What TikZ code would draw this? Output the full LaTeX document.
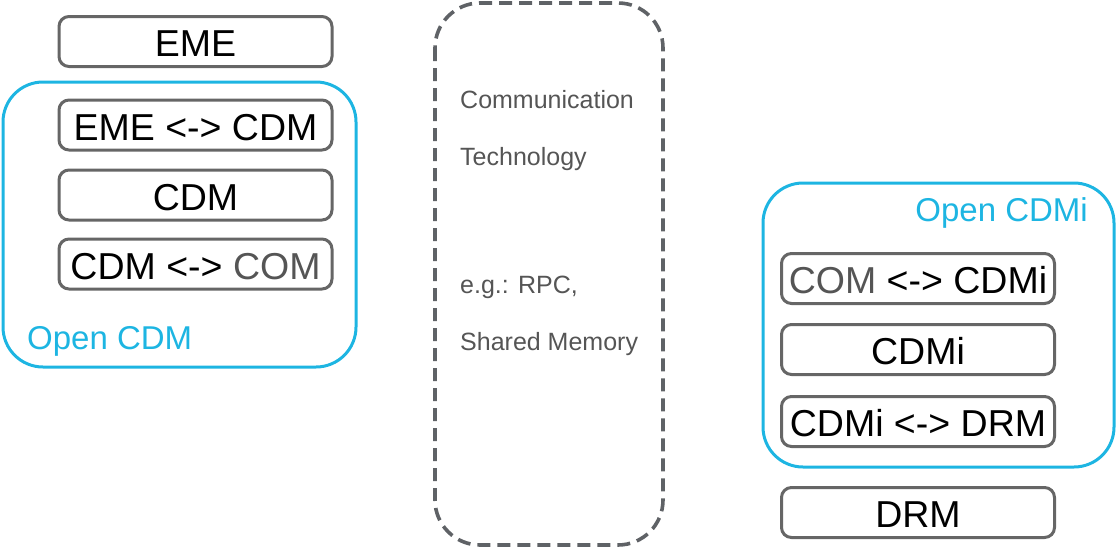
\documentclass[tikz,border=0pt]{standalone}
\usepackage{fontspec}
\setmainfont{Liberation Sans}
\usetikzlibrary{positioning}
\definecolor{boxgray}{HTML}{666666}
\definecolor{dashgray}{HTML}{5F6266}
\definecolor{txtgray}{HTML}{555555}
\definecolor{cyanb}{HTML}{1DB5E2}
\begin{document}
\begin{tikzpicture}[x=1pt,y=-1pt,
  layer/.style={draw=boxgray, line width=3pt, rounded corners=10pt, fill=white,
    minimum width=273pt, minimum height=50pt, inner sep=0pt,
    text height=30pt, text depth=0pt,
    font=\fontsize{37.5}{40}\selectfont, text=black},
  group/.style={draw=cyanb, line width=3pt, rounded corners=40pt},
  grouplabel/.style={text=cyanb, font=\fontsize{33}{36}\selectfont, inner sep=0pt},
  midtext/.style={text=txtgray, font=\fontsize{25}{28}\selectfont, inner sep=0pt, anchor=west}
]
\useasboundingbox (0,0) rectangle (1117,549);
% left group
\draw[group] (3,82) rectangle (356,367);
\node[layer] (eme) at (195.5,41.5) {EME};
\node[layer] (emecdm) at (195.5,125) {EME <-> CDM};
\node[layer] (cdm) at (195.5,195) {CDM};
\node[layer] (cdmcom) at (195.5,264) {CDM <-> \textcolor{txtgray}{COM}};
\node[grouplabel, anchor=west] (opencdm) at (27,341) {Open CDM};
% middle
\draw[draw=dashgray, line width=3.6pt, dash pattern=on 13pt off 7pt, rounded corners=45pt] (435,3) rectangle (663,545);
\node[midtext] (t1) at (460,100) {Communication};
\node[midtext] (t2) at (460,159.5) {Technology};
\node[midtext] (t3) at (460,287) {e.g.: RPC,};
\node[midtext] (t4) at (460,344) {Shared Memory};
% right group
\draw[group] (763,183) rectangle (1114,467);
\node[grouplabel, anchor=east] (opencdmi) at (1088,213) {Open CDMi};
\node[layer] (comcdmi) at (918,278.5) {\textcolor{txtgray}{COM} <-> CDMi};
\node[layer] (cdmi) at (918,349.5) {CDMi};
\node[layer] (cdmidrm) at (918,421.5) {CDMi <-> DRM};
\node[layer] (drm) at (918,512.5) {DRM};
\end{tikzpicture}
\end{document}
